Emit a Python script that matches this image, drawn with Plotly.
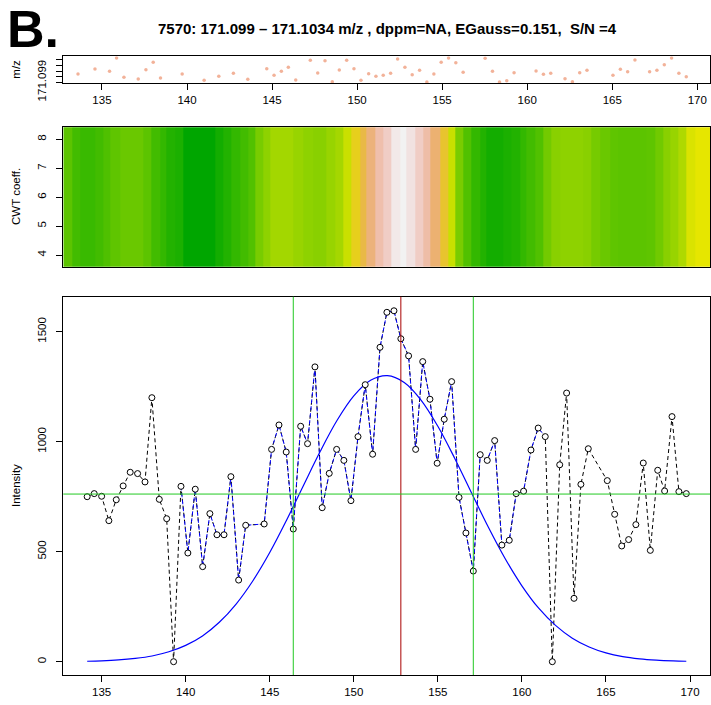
import plotly.graph_objects as go

# ---------------- data ----------------
# main panel: scan positions and intensities
scan_x = [134.14, 134.56, 135.00, 135.43, 135.87, 136.28, 136.70, 137.14, 137.58, 137.99,
          138.43, 138.87, 139.28, 139.72, 140.13, 140.57, 141.01, 141.44, 141.86, 142.28,
          142.69, 143.15, 143.57, 144.67, 145.11, 145.55, 145.98, 146.40, 146.84, 147.25,
          147.69, 148.12, 148.54, 148.98, 149.41, 149.83, 150.25, 150.68, 151.12, 151.56,
          151.97, 152.39, 152.80, 153.26, 153.68, 154.10, 154.53, 154.96, 155.38, 155.82,
          156.26, 156.67, 157.11, 157.52, 157.94, 158.38, 158.81, 159.25, 159.66, 160.10,
          160.54, 160.97, 161.39, 161.81, 162.25, 162.66, 163.10, 163.51, 163.95, 165.08,
          165.52, 165.94, 166.35, 166.78, 167.22, 167.64, 168.08, 168.49, 168.93, 169.34, 169.78]
intensity = [750, 764, 752, 641, 736, 799, 861, 855, 817, 1200,
             738, 650, 0, 797, 494, 784, 432, 673, 577, 577,
             841, 371, 620, 626, 965, 1076, 953, 603, 1070, 991,
             1340, 700, 856, 965, 915, 732, 1023, 1259, 943, 1429,
             1588, 1595, 1468, 1390, 965, 1364, 1193, 902, 1102, 1273,
             747, 585, 412, 941, 915, 1005, 530, 552, 764, 775,
             962, 1062, 1023, 0, 895, 1221, 288, 806, 968, 823,
             670, 526, 555, 623, 903, 506, 870, 776, 1114, 773, 764]

# peak region (blue dashed) bounds
peak_first = 139.72
peak_last = 161.39

# fitted gaussian curve
gauss_x = [134.14, 135, 136, 137, 138, 139, 140, 141, 142, 143, 144, 145, 146, 147, 148,
           149, 150, 151, 152, 153, 154, 155, 156, 157, 158, 159, 160, 161, 162, 163,
           164, 165, 166, 167, 168, 169, 169.78]
gauss_y = [2, 4, 8, 15, 26, 45, 74, 117, 179, 262, 368, 496, 643, 800, 955,
           1096, 1208, 1279, 1300, 1269, 1189, 1070, 925, 768, 612, 469, 345, 243, 165, 107,
           67, 40, 23, 13, 7, 3.5, 2]

# reference lines
peak_bounds = [146.40, 157.11]
peak_apex = 152.80
baseline = 762

# top panel: m/z of centroids per scan
top_x = [133.591, 134.589, 135.446, 135.857, 136.292, 137.132, 137.584, 138.012, 138.441, 139.715,
         141.007, 141.870, 142.727, 143.573, 144.689, 145.117, 145.546, 145.957, 146.392, 147.249,
         147.684, 148.112, 148.541, 148.952, 149.386, 149.815, 150.226, 150.678, 151.107, 151.535,
         151.970, 152.381, 152.810, 153.238, 153.673, 154.101, 154.513, 154.941, 155.376, 155.804,
         156.233, 157.525, 157.959, 158.370, 158.799, 159.228, 160.520, 160.954, 161.383, 162.222,
         162.657, 163.086, 163.514, 165.041, 165.476, 165.904, 166.333, 167.196, 167.625, 168.059,
         168.488, 168.917, 169.351]
top_mz = [171.10047, 171.10135, 171.10095, 171.10330, 171.09988, 171.09958, 171.10123, 171.10254, 171.09976, 171.10047,
          171.09935, 171.10006, 171.10059, 171.09953, 171.10141, 171.10024, 171.10095, 171.10165, 171.09941, 171.10289,
          171.10065, 171.10282, 171.09911, 171.10118, 171.10289, 171.10141, 171.09935, 171.10052, 171.10006, 171.10024,
          171.10059, 171.10312, 171.10165, 171.10035, 171.10112, 171.09905, 171.10047, 171.10254, 171.10330, 171.10247,
          171.10077, 171.10325, 171.10095, 171.09905, 171.09928, 171.10070, 171.10100, 171.10042, 171.10059, 171.09964,
          171.09911, 171.10070, 171.10112, 171.10024, 171.10130, 171.10088, 171.10295, 171.10088, 171.10112, 171.10212,
          171.10330, 171.10059, 171.10000]
mz_ticks = [171.099, 171.100, 171.101, 171.102, 171.103]
mz_ticktext = ["171.099", "", "", "", ""]

# CWT heat strip: column edges (m/z) and relative coefficient level
cwt_edges = [132.716, 133.275, 133.709, 134.601, 135.095, 135.494, 136.089, 137.475, 137.974, 138.468,
             138.867, 139.361, 139.854, 141.740, 142.234, 142.733, 143.227, 143.721, 144.119, 144.613,
             145.012, 146.398, 146.993, 147.588, 148.385, 148.879, 149.373, 149.872, 150.366, 150.765,
             151.259, 151.752, 152.252, 152.746, 153.144, 153.638, 154.132, 154.530, 155.125, 155.619,
             156.018, 156.511, 157.011, 157.505, 157.903, 158.891, 159.390, 159.884, 160.283, 160.776,
             161.270, 161.770, 162.264, 163.650, 164.150, 164.643, 165.238, 165.732, 167.421, 167.915,
             168.409, 168.808, 169.301, 169.801, 170.294, 171.187]
cwt_level = [0.235, 0.175, 0.155, 0.175, 0.205, 0.24, 0.265, 0.235, 0.175, 0.14,
             0.095, 0.075, 0.0, 0.055, 0.095, 0.14, 0.175, 0.21, 0.295, 0.34,
             0.38, 0.36, 0.34, 0.33, 0.36, 0.385, 0.45, 0.56, 0.65, 0.76,
             0.86, 0.91, 0.98, 1.0, 0.965, 0.91, 0.85, 0.74, 0.6, 0.45,
             0.3, 0.21, 0.14, 0.095, 0.055, 0.075, 0.095, 0.14, 0.175, 0.21,
             0.285, 0.33, 0.34, 0.33, 0.29, 0.265, 0.24, 0.235, 0.24, 0.28,
             0.33, 0.36, 0.40, 0.48, 0.50]
cwt_scales = [4, 5, 6, 7, 8]

x_ticks = [135, 140, 145, 150, 155, 160, 165, 170]
int_ticks = [0, 500, 1000, 1500]

# ---------------- figure ----------------
FONT = "Liberation Sans, Arial, Helvetica, sans-serif"
terrain = [[0.0, "rgb(0,166,0)"], [0.0625, "rgb(22,174,0)"], [0.125, "rgb(45,182,0)"],
           [0.1875, "rgb(71,190,0)"], [0.25, "rgb(99,198,0)"], [0.3125, "rgb(128,206,0)"],
           [0.375, "rgb(160,214,0)"], [0.4375, "rgb(194,222,0)"], [0.5, "rgb(230,230,0)"],
           [0.5625, "rgb(231,206,29)"], [0.625, "rgb(233,189,58)"], [0.6875, "rgb(234,179,88)"],
           [0.75, "rgb(236,177,118)"], [0.8125, "rgb(237,182,148)"], [0.875, "rgb(239,194,179)"],
           [0.9375, "rgb(241,214,211)"], [1.0, "rgb(242,242,242)"]]

fig = go.Figure()

# top panel
fig.add_trace(go.Scatter(x=top_x, y=top_mz, mode="markers",
                         marker=dict(size=3.5, color="rgba(240,165,135,0.85)"),
                         xaxis="x", yaxis="y", hoverinfo="skip", showlegend=False))

# heat strip
fig.add_trace(go.Heatmap(x=cwt_edges, y=cwt_scales, z=[cwt_level for _ in cwt_scales],
                         colorscale=terrain, zmin=0, zmax=1, showscale=False,
                         xaxis="x2", yaxis="y2", hoverinfo="skip"))

# main panel
fig.add_trace(go.Scatter(x=scan_x, y=intensity, mode="lines",
                         line=dict(color="black", width=1, dash="4px,3px"),
                         xaxis="x3", yaxis="y3", showlegend=False, hoverinfo="skip"))
pk_x = [x for x in scan_x if peak_first <= x <= peak_last]
pk_y = [y for x, y in zip(scan_x, intensity) if peak_first <= x <= peak_last]
fig.add_trace(go.Scatter(x=pk_x, y=pk_y, mode="lines",
                         line=dict(color="#0000FF", width=1, dash="4px,3px"),
                         xaxis="x3", yaxis="y3", showlegend=False, hoverinfo="skip"))
fig.add_trace(go.Scatter(x=gauss_x, y=gauss_y, mode="lines",
                         line=dict(color="#0000FF", width=1.2, shape="spline"),
                         xaxis="x3", yaxis="y3", showlegend=False, hoverinfo="skip"))
fig.add_trace(go.Scatter(x=scan_x, y=intensity, mode="markers",
                         marker=dict(size=6, color="white", line=dict(color="black", width=1)),
                         xaxis="x3", yaxis="y3", showlegend=False, hoverinfo="skip"))

green = "#22C922"
shapes = []
for b in peak_bounds:
    shapes.append(dict(type="line", xref="x3", yref="y3 domain", x0=b, x1=b, y0=0, y1=1,
                       line=dict(color=green, width=1), layer="above"))
shapes.append(dict(type="line", xref="x3", yref="y3 domain", x0=peak_apex, x1=peak_apex, y0=0, y1=1,
                   line=dict(color="#A80000", width=1), layer="above"))
shapes.append(dict(type="line", xref="x3 domain", yref="y3", x0=0, x1=1, y0=baseline, y1=baseline,
                   line=dict(color=green, width=1), layer="above"))

xdom = [63.3 / 711, 710 / 711]
ax_common = dict(showline=True, linecolor="black", linewidth=1, mirror=True, showgrid=False,
                 zeroline=False, ticks="outside", ticklen=6, tickcolor="black", automargin=False,
                 tickfont=dict(size=11.5, family=FONT, color="black"))

fig.update_layout(
    width=711, height=705, margin=dict(l=0, r=0, t=0, b=0, pad=0), autosize=False,
    paper_bgcolor="white", plot_bgcolor="white", showlegend=False,
    font=dict(family=FONT, color="black"),
    xaxis=dict(domain=xdom, anchor="y", range=[132.727, 170.746], tickvals=x_ticks, **ax_common),
    yaxis=dict(domain=[1 - 83 / 705, 1 - 56.3 / 705], anchor="x", range=[171.09888, 171.1036],
               tickvals=mz_ticks, ticktext=mz_ticktext, tickangle=-90, ticklabelstandoff=6, **ax_common),
    xaxis2=dict(domain=xdom, anchor="y2", range=[132.716, 171.187], showticklabels=False,
                showline=True, linecolor="black", linewidth=1, mirror=True, showgrid=False,
                zeroline=False, ticks="", automargin=False),
    yaxis2=dict(domain=[1 - 266.7 / 705, 1 - 127.3 / 705], anchor="x2", range=[3.6, 8.41],
                tickvals=cwt_scales, tickangle=-90, ticklabelstandoff=6, **ax_common),
    xaxis3=dict(domain=xdom, anchor="y3", range=[132.72, 171.19], tickvals=x_ticks, **ax_common),
    yaxis3=dict(domain=[1 - 675 / 705, 1 - 296.7 / 705], anchor="x3", range=[-60.5, 1659],
                tickvals=int_ticks, tickangle=-90, ticklabelstandoff=6, **ax_common),
    shapes=shapes,
    annotations=[
        dict(text="<b>B.</b>", x=5 / 711, y=1 - 29 / 705, xref="paper", yref="paper",
             xanchor="left", yanchor="middle", showarrow=False, font=dict(size=52, family=FONT)),
        dict(text="<b>7570: 171.099 \u2013 171.1034 m/z , dppm=NA, EGauss=0.151,  S/N =4</b>",
             x=387 / 711, y=1 - 28 / 705, xref="paper", yref="paper", xanchor="center",
             yanchor="middle", showarrow=False, font=dict(size=15, family=FONT)),
        dict(text="m/z", x=16 / 711, y=1 - 69.7 / 705, xref="paper", yref="paper", textangle=-90,
             xanchor="center", yanchor="middle", showarrow=False, font=dict(size=11.5, family=FONT)),
        dict(text="CWT coeff.", x=16 / 711, y=1 - 197 / 705, xref="paper", yref="paper", textangle=-90,
             xanchor="center", yanchor="middle", showarrow=False, font=dict(size=11.5, family=FONT)),
        dict(text="Intensity", x=16 / 711, y=1 - 486 / 705, xref="paper", yref="paper", textangle=-90,
             xanchor="center", yanchor="middle", showarrow=False, font=dict(size=11.5, family=FONT)),
    ],
)

page_fix = ("var h=document.documentElement,b=document.body;"
            "h.style.margin='0';h.style.padding='0';h.style.overflow='hidden';"
            "b.style.margin='0';b.style.padding='0';b.style.overflow='hidden';")
fig.write_html("out.html", config={"displayModeBar": False}, post_script=page_fix)
